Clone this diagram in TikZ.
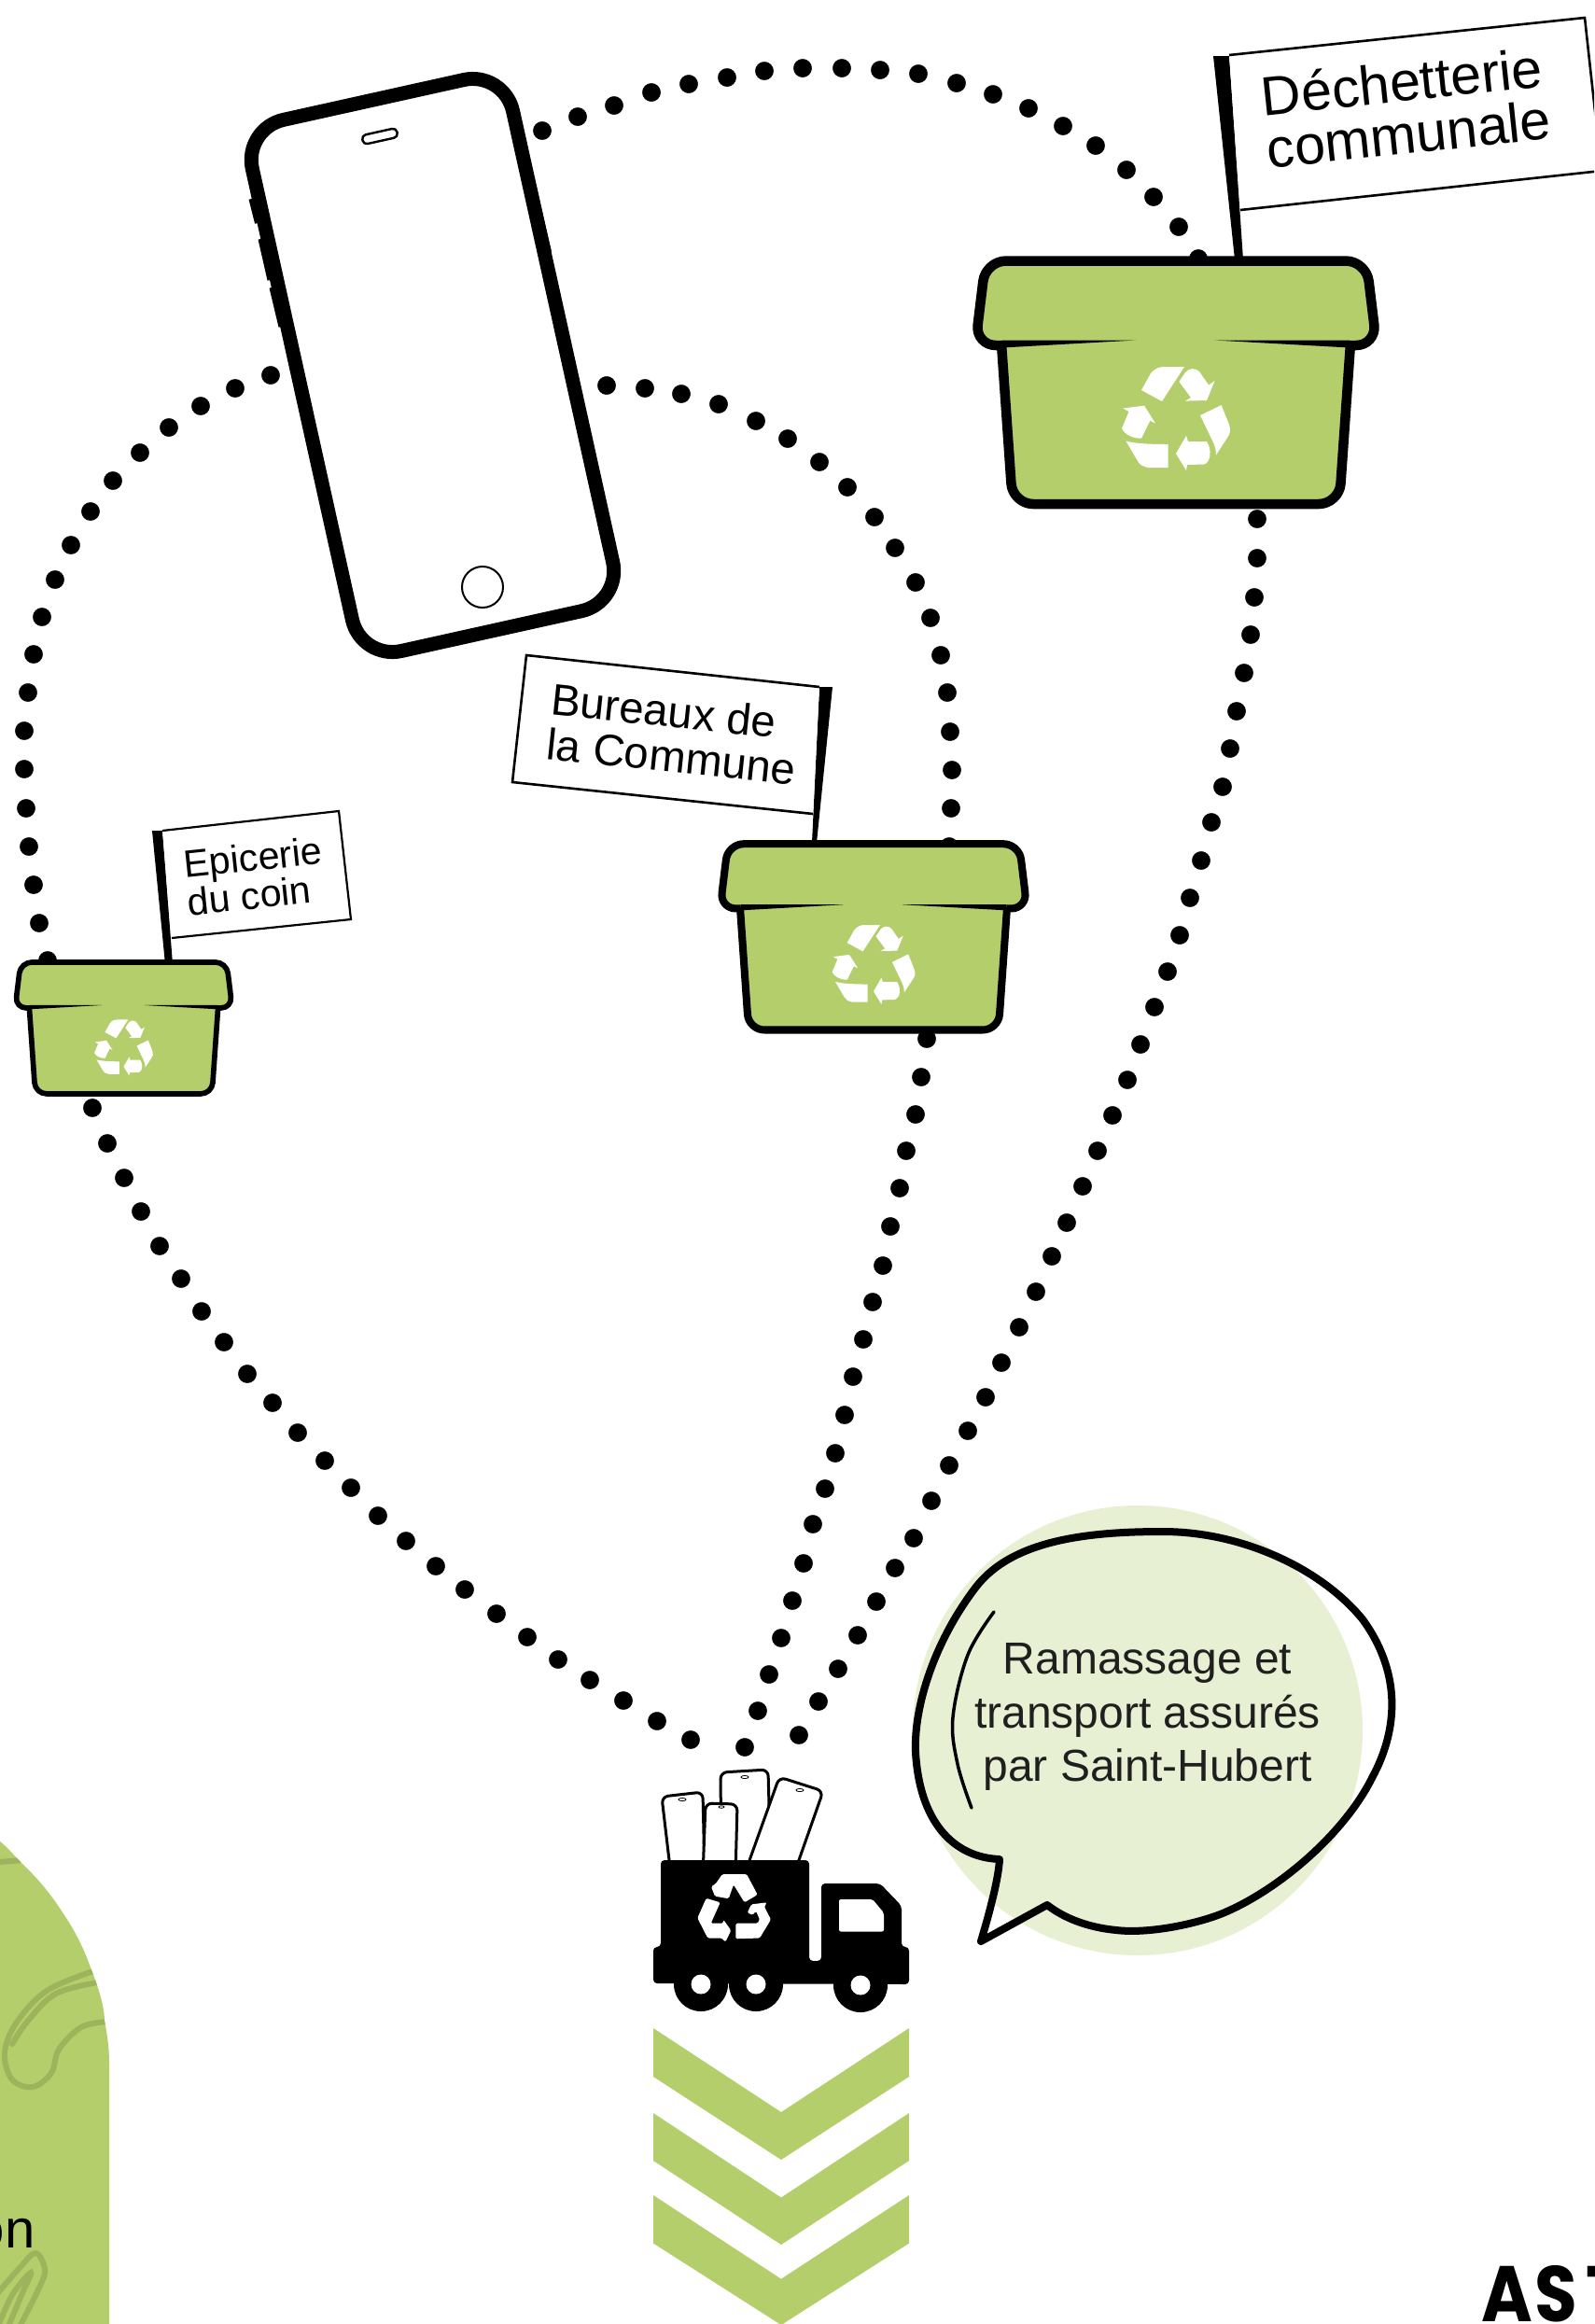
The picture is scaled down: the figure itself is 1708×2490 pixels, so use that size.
\documentclass[tikz,border=0pt]{standalone}
\usepackage{fontspec}
\setmainfont{Liberation Sans}
\newfontfamily\astfont{Poppins}
\definecolor{bingreen}{HTML}{B3CE6B}
\definecolor{leafline}{HTML}{9EB45C}
\definecolor{palegreen}{HTML}{E8F0D3}
\def\px{*0.28453pt}
\tikzset{
  dotlink/.style={mark=*,only marks,mark size=2.75pt,mark options={fill=black,line width=.1pt}},
  flagbox/.style={draw=black,fill=white,line width=2.6\px,line join=miter},
  flagtext/.style={inner sep=0pt,align=left,text=black},
  miniphone/.style={draw=black,fill=white,line width=3\px,rounded corners=7\px},
  minispeaker/.style={draw=black,line width=.8\px,fill=white},
  leaf/.style={draw=leafline,line width=6\px,line cap=round}
}
% recycling symbol of the bins (local units: big bin, origin top centre)
\newcommand{\binrecycle}{%
  \fill[white] (-37,144) -- (-27,126) .. controls (-22,120) and (-17,119) .. (-12,119) -- (9,119) -- (-15,156) -- cycle;
  \fill[white] (3.4,135) -- (10,125) .. controls (14,120) and (21,120) .. (25,124) -- (35,138.5) -- (41.6,134) -- (33,155) -- (10,155.6) -- (16,152) -- cycle;
  \fill[white] (26,171) -- (48.6,160) -- (57,181) .. controls (59,187) and (58,191) .. (55,195) -- (43,213.5) .. controls (43,207) and (41,202) .. (38.5,197) -- cycle;
  \fill[white] (11,193) -- (0,212) -- (11,230) -- (12,224) -- (30,223.5) .. controls (37,222) and (39,208) .. (33,199) -- (13,199) -- cycle;
  \fill[white] (-53.6,198.5) .. controls (-45,201) and (-30,202) .. (-8.4,202) -- (-8.4,227) -- (-29.5,227) .. controls (-35,226) and (-39,224) .. (-41,220) -- cycle;
  \fill[white] (-56.7,163.5) -- (-34,160.6) -- (-22,179.6) -- (-27.7,176.7) -- (-37,195.6) .. controls (-47,196) and (-55,191) .. (-58,185) -- (-50.5,167) -- cycle;
}
% a green bin: centre x, top y, scale
\newcommand{\greenbin}[3]{%
  \begin{scope}[shift={(#1,#2)},x=#3*.01cm,y=-#3*.01cm,line join=round]
    \fill[bingreen,rounded corners=22\px*#3] (-188,90) -- (-175,266) -- (175,266) -- (188,90) -- cycle;
    \fill[bingreen,rounded corners=22\px*#3] (-215,96) -- (-204,5.5) -- (204,5.5) -- (215,96) -- cycle;
    \draw[black,line width=10.5\px*#3,rounded corners=22\px*#3] (-187,94) -- (-175,266) -- (175,266) -- (187,94);
    \draw[black,line width=10.5\px*#3,rounded corners=22\px*#3] (-186,96) -- (-215,96) -- (-204,5.5) -- (204,5.5) -- (215,96) -- (186,96);
    \fill[black] (-186,90.5) -- (-43,90.5) -- (-186,98.5) -- cycle;
    \fill[black] (186,90.5) -- (41,90.5) -- (186,98.5) -- cycle;
    \binrecycle
  \end{scope}%
}
\begin{document}
\begin{tikzpicture}[x=.01cm,y=-.01cm]
\useasboundingbox (0,0) rectangle (1708,2490);
\clip (0,0) rectangle (1708,2490);
\fill[white] (0,0) rectangle (1708,2490);

% left arch
\begin{scope}
  \clip (0,1973) .. controls (8,1979) and (15,1988) .. (23,1996) .. controls (40,2012) and (55,2030) .. (67,2049) .. controls (80,2068) and (90,2088) .. (97,2108) .. controls (105,2128) and (112,2150) .. (112,2165) .. controls (115,2180) and (117,2195) .. (117,2210) -- (117,2490) -- (0,2490) -- cycle;
  \fill[bingreen] (0,1960) rectangle (120,2490);
  \draw[leaf] (-2,1995) -- (25,1993);
  \draw[leaf] plot[smooth,tension=.6] coordinates {(100,2112) (50,2133) (17,2168) (5,2200) (13,2228) (35,2236) (55,2221) (63,2196) (87,2172) (115,2166)};
  \draw[leaf] plot[smooth,tension=.6] coordinates {(105,2124) (60,2136) (30,2165) (13,2190)};
  \draw[leaf] plot[smooth,tension=.6] coordinates {(-5,2460) (20,2431) (38,2414) (48,2431) (43,2449) (20,2495)};
  \draw[leaf] plot[smooth,tension=.6] coordinates {(-3,2495) (13,2459) (33,2435) (23,2459) (8,2495)};
\end{scope}
\node[anchor=base east,inner sep=0pt,font=\fontsize{16.5}{16}\selectfont] (cutword) at (38,2408) {on};

% dotted links
\draw plot[dotlink] coordinates {(581,140) (619,125) (658,113) (698,99) (738,90) (779,83) (819,76) (860,73) (902,73) (943,75) (984,79) (1025,89) (1064,101) (1102,116) (1139,135) (1174,156) (1207,182) (1236,211) (1263,243) (1284,277)};
\draw plot[dotlink] coordinates {(290,402) (252,416) (215,435) (181,458) (150,485) (121,515) (97,548) (76,584) (59,621) (45,661) (36,701) (30,742) (26,783) (26,824) (28,866) (31,907) (36,948) (42,989) (51,1029)};
\draw plot[dotlink] coordinates {(650,413) (691,416) (730,422) (770,433) (810,451) (844,470) (878,495) (908,522) (937,554) (959,587) (981,624) (997,662) (1008,702) (1015,742) (1018,784) (1020,825) (1019,866) (1017,907)};
\draw plot[dotlink] coordinates {(1347,556) (1347,598) (1344,640) (1340,680) (1333,721) (1325,762) (1318,802) (1310,843) (1298,881) (1287,922) (1275,962) (1264,1002) (1251,1041) (1237,1079) (1222,1119) (1208,1157) (1192,1195) (1176,1233) (1160,1271) (1143,1310) (1127,1346) (1110,1384) (1092,1422) (1073,1460) (1056,1497) (1037,1533) (1017,1570) (998,1608) (979,1648) (959,1680) (939,1716) (919,1752) (898,1788) (877,1823) (856,1859)};
\draw plot[dotlink] coordinates {(993,1113) (987,1154) (981,1194) (971,1233) (964,1273) (954,1314) (946,1356) (935,1395) (925,1435) (914,1475) (905,1516) (895,1557) (884,1595) (871,1633) (861,1675) (849,1715) (837,1755) (824,1794) (812,1833) (798,1872)};
\draw plot[dotlink] coordinates {(99,1187) (115,1225) (133,1262) (151,1298) (171,1335) (194,1370) (216,1405) (240,1438) (265,1472) (292,1503) (319,1535) (348,1565) (376,1594) (405,1624) (435,1651) (467,1678) (498,1703) (532,1729) (565,1754) (598,1778) (632,1800) (668,1822) (704,1844) (740,1864)};

% big phone
\draw[black,line width=6\px] (269.5,213) -- (276,239) (279.5,256) -- (289.5,300) (291.5,308) -- (301.5,350) (572,201) -- (588,270);
\begin{scope}[shift={(463.5,391.5)},rotate=12.5]
  \draw[black,fill=white,line width=15\px,rounded corners=44\px] (-143,-291.5) rectangle (143,291.5);
\end{scope}
\begin{scope}[shift={(407,146)},rotate=12.5]
  \draw[black,line width=2.4\px,rounded corners=4.5\px] (-19,-5) rectangle (19,5);
\end{scope}
\draw[black,line width=2\px] (517,629) circle[radius=22];

% flags
\fill[black] (1300,60) -- (1317,60) -- (1332,278) -- (1323,278) -- cycle;
\draw[flagbox] (1317,59) -- (1698,19) -- (1716,183) -- (1329,225);
\node[flagtext,rotate=6,font=\fontsize{16.8}{16.1}\selectfont] (dechet) at (1506.5,115) {Déchetterie\\communale};

\fill[black] (878,736) -- (892,736) -- (875,903) -- (870,903) -- cycle;
\draw[flagbox] (878,736) -- (564,702) -- (549,838) -- (871,872);
\node[flagtext,rotate=-6,font=\fontsize{13.45}{13.65}\selectfont] (bureaux) at (722,786.5) {Bureaux de\\la Commune};

\fill[black] (163,890) -- (174,890) -- (185,1033) -- (177,1033) -- cycle;
\draw[flagbox,line width=2.2\px] (174,890) -- (363,869) -- (376,985) -- (184,1005);
\node[flagtext,rotate=6,font=\fontsize{11.7}{11.5}\selectfont] (epicerie) at (273,938.5) {Epicerie\\du coin};

% bins
\greenbin{1260}{274}{1}
\greenbin{936}{900}{.765}
\greenbin{132.5}{1028}{.541}

% speech bubble
\fill[palegreen] (1219,1854) circle[radius=241];
\draw[black,line width=8\px,line join=round] (1051,2080) .. controls (1063,2040) and (1070,2010) .. (1071,1992)
  .. controls (1020,1990) and (985,1950) .. (981,1877)
  .. controls (979,1830) and (1000,1760) .. (1046,1700)
  .. controls (1085,1650) and (1165,1641) .. (1246,1641)
  .. controls (1330,1641) and (1415,1680) .. (1460,1735)
  .. controls (1500,1790) and (1500,1850) .. (1470,1905)
  .. controls (1440,1965) and (1370,2025) .. (1310,2050)
  .. controls (1280,2062) and (1230,2072) .. (1196,2068)
  .. controls (1165,2065) and (1140,2055) .. (1122,2041) -- cycle;
\draw[black,line width=3.5\px,line cap=round] plot[smooth,tension=.6] coordinates {(1065,1727) (1037,1773) (1021,1840) (1026,1890) (1041,1937)};
\node[inner sep=0pt,align=center,text=black!88,font=\fontsize{13.65}{16.3}\selectfont] (bubbletext) at (1229.5,1839.5) {Ramassage et\\transport assurés\\par Saint-Hubert};

% phones in the truck
\draw[miniphone] (773,2010) -- (772,1899) -- (823,1896) -- (826,2010) -- cycle;
\draw[miniphone] (719,2010) -- (709,1925) -- (753,1920) -- (755,2010) -- cycle;
\draw[miniphone] (753,2010) -- (756,1932) -- (790,1933) -- (788,2010) -- cycle;
\draw[miniphone] (797,2010) -- (835,1904) -- (882,1919) -- (850,2010) -- cycle;
\draw[minispeaker] (798,1904) ellipse[x radius=4,y radius=1.6];
\draw[minispeaker] (731,1928) ellipse[x radius=4,y radius=1.6];
\draw[minispeaker] (773,1936) ellipse[x radius=3,y radius=1.2];
\draw[minispeaker] (857,1918) ellipse[x radius=4,y radius=1.6];

% truck
\fill[black,rounded corners=4\px] (700,2086) -- (708,2086) -- (708,1993) -- (867,1993) -- (867,2101) -- (880,2101) -- (880,2018) -- (943,2018) -- (966,2042) -- (966,2086) -- (974,2086) -- (974,2126) -- (700,2125) -- cycle;
\fill[black] (751,2126) circle[radius=29] (810,2126) circle[radius=29] (922,2127) circle[radius=29];
\fill[white] (751,2126) circle[radius=10.5] (810,2126) circle[radius=10.5] (922,2127) circle[radius=10.5];
\fill[white,rounded corners=2\px] (899,2035) -- (935,2035) -- (947,2049.5) -- (947,2069.5) -- (899,2069.5) -- cycle;
\fill[white,rounded corners=1.5\px] (766.7,2018.4) -- (774,2008) -- (800,2008) -- (811.7,2030) -- (797.7,2038.3) -- (786,2019.3) -- (780.7,2034.2) -- (766,2031.7) -- (762,2021.3) -- cycle;
\fill[white,rounded corners=1.5\px] (800.7,2049.5) -- (805,2040.4) -- (821.7,2038.3) -- (819,2043) -- (826,2056.6) -- (814,2076.5) -- (788.3,2077.3) -- (788.3,2060.7) -- (811.7,2060.7) -- (814,2056.6) -- (810,2047.5) -- (806.7,2051.6) -- cycle;
\fill[white,rounded corners=1.5\px] (756.7,2033.8) -- (771.7,2038.3) -- (761.7,2060.7) -- (775,2060.7) -- (775,2056.6) -- (783.3,2068.2) -- (777.3,2080.7) -- (773.3,2076.5) -- (758.3,2076.5) -- (747.3,2055) -- cycle;

% chevrons
\fill[bingreen] (700,2173) -- (837,2263) -- (974,2173) -- (974,2225) -- (837,2314) -- (700,2225) -- cycle;
\fill[bingreen] (700,2264) -- (837,2354.5) -- (974,2264) -- (974,2315) -- (837,2405) -- (700,2315) -- cycle;
\fill[bingreen] (700,2352) -- (837,2441.7) -- (974,2352) -- (974,2403.5) -- (837,2491) -- (700,2403.5) -- cycle;

% cut-off word, bottom right
\node[anchor=base west,inner sep=0pt,xscale=.88,transform shape,font=\astfont\bfseries\fontsize{24}{24}\selectfont] (cornerword) at (1587,2487) {A\kern.8pt S\kern3pt T};
\end{tikzpicture}
\end{document}
